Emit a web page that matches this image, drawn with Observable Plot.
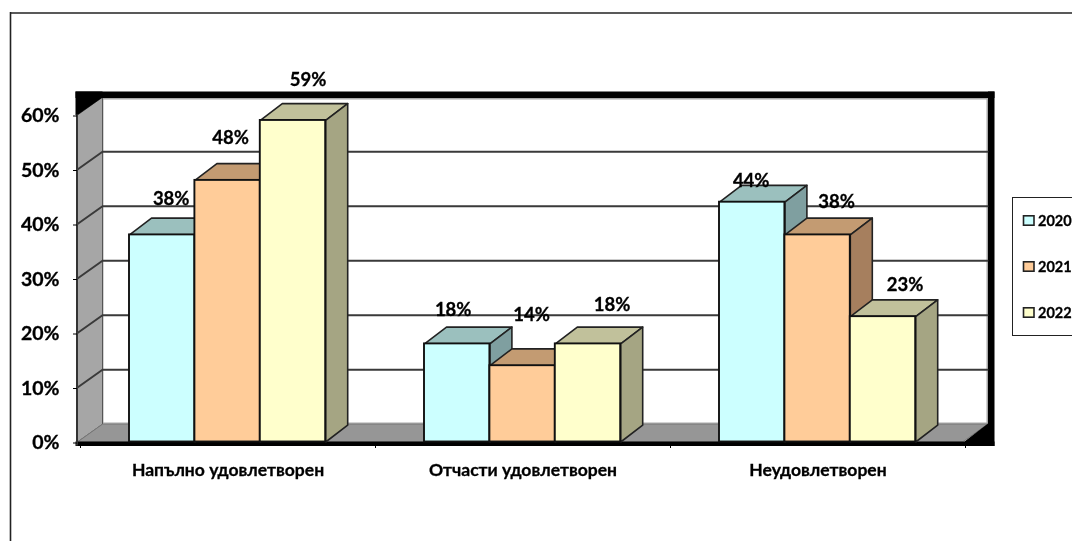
<!DOCTYPE html>
<html>
<head>
<meta charset="utf-8">
<script src="https://cdn.jsdelivr.net/npm/d3@7"></script>
<script src="https://cdn.jsdelivr.net/npm/@observablehq/plot@0.6"></script>
<style>
html,body{margin:0;padding:0;background:#fff;overflow:hidden}
svg{display:block;filter:blur(0.35px)}
svg text{stroke:#000;stroke-width:0.3px}
</style>
</head>
<body>
<div id="chart"></div>
<script>
// ---- data ----
const categories = ["Напълно удовлетворен", "Отчасти удовлетворен", "Неудовлетворен"];
const years = ["2020", "2021", "2022"];
const values2020 = [38, 18, 44];
const values2021 = [48, 14, 38];
const values2022 = [59, 18, 23];
const yTicks = [0, 10, 20, 30, 40, 50, 60];

// ---- styling per series ----
const frontColors = ["#CCFFFF", "#FFCC99", "#FFFFCC"];
const topColors   = ["#9BC0BE", "#C39B72", "#C1C19B"];
const sideColors  = ["#7F9FA0", "#A67F5E", "#A5A583"];

// ---- manual data label offsets (px, from bar centre / bar top) ----
const labelDx = [[9, -4, -1], [3, 9, 19], [15, 24, 22]];
const labelDy = [[-36, -34, -21], [-42, -51, -33], [-40, -39, -32]];

// ---- layout ----
const W = 1072, H = 541;
const X0 = 80, X3 = 965, Y0 = 441.5, Y60 = 114.5;
const groupPx = (X3 - X0) / 3, pctPx = (Y0 - Y60) / 60;
const ux = px => (px - X0) / groupPx;      // pixels to x units
const uy = py => (Y0 - py) / pctPx;        // pixels to y units
const barW = 65.4 / groupPx, groupGap = 49 / groupPx;
const depthX = 22 / groupPx, depthY = 16.8 / pctPx;
const wallX = 25 / groupPx, wallY = 17.8 / pctPx;
const xL = ux(77);

const series = [values2020, values2021, values2022];

// polygon helper: a filled closed line in chart units
const poly = (pts, fill, stroke = "none", strokeWidth = 1) =>
  Plot.line(pts, {x: "0", y: "1", curve: "linear-closed", fill, stroke, strokeWidth, strokeLinejoin: "round", clip: false});

const marks = [];

// back wall, left wall, floor
marks.push(poly([[xL + wallX, uy(98)], [ux(987), uy(98)], [ux(987), uy(423)], [xL + wallX, uy(423)]], "#fff", "#a8a8a8", 2));
marks.push(poly([[xL, 60], [xL + wallX, 60 + wallY], [xL + wallX, wallY], [xL, 0]], "#A6A6A6", "#555", 1));
marks.push(poly([[xL, 0], [xL + wallX, wallY], [ux(987), wallY], [ux(987) - wallX, 0]], "#969696", "#777", 1));

// black chart area edge
marks.push(poly([[ux(75), uy(91)], [ux(994), uy(91)], [ux(994), uy(97.5)], [ux(75), uy(97.5)]], "#000"));
marks.push(poly([[ux(75), uy(91)], [ux(102), uy(91)], [ux(102), uy(97)], [ux(77), uy(114.5)], [ux(75), uy(114.5)]], "#000"));
marks.push(poly([[ux(987.5), uy(91)], [ux(994), uy(91)], [ux(994), uy(445.5)], [ux(987.5), uy(445.5)]], "#000"));
marks.push(poly([[ux(75), uy(441)], [ux(994), uy(441)], [ux(994), uy(445.5)], [ux(75), uy(445.5)]], "#000"));
marks.push(poly([[ux(987.5), uy(423)], [ux(987.5), uy(445)], [ux(964), uy(445)], [ux(964), uy(441)]], "#000"));
marks.push(poly([[ux(75.5), uy(114)], [ux(77.5), uy(114)], [ux(77.5), uy(445)], [ux(75.5), uy(445)]], "#333"));

// gridlines: along the back wall and down the left wall
const grid = yTicks.filter(t => t > 0 && t < 60);
marks.push(Plot.line(grid.flatMap(t => [
  {t, x: xL, y: t}, {t, x: xL + wallX, y: t + wallY}, {t, x: ux(987), y: t + wallY}
]), {x: "x", y: "y", z: "t", stroke: "#3a3a3a", strokeWidth: 2}));

// bars, drawn series by series so that later bars overlap earlier ones
const barTable = [];
series.forEach((vals, s) => vals.forEach((v, c) => {
  const a = c + groupGap + s * barW, b = a + barW;
  barTable.push({s, c, v, a, b, cx: (a + b) / 2});
}));
series.forEach((vals, s) => {
  barTable.filter(d => d.s === s).forEach(({a, b, v}) => {
    marks.push(poly([[a, v], [a + depthX, v + depthY], [b + depthX, v + depthY], [b, v]], topColors[s], "#222", 1.6));
    marks.push(poly([[b, 0], [b + depthX, depthY], [b + depthX, v + depthY], [b, v]], sideColors[s], "#222", 1.6));
  });
  marks.push(Plot.rect(barTable.filter(d => d.s === s), {
    x1: "a", x2: "b", y1: 0, y2: "v", fill: frontColors[s], stroke: "#111", strokeWidth: 1.9
  }));
});

// data labels
marks.push(Plot.text(barTable, {
  x: "cx", y: "v",
  text: d => d.v + "%",
  fontWeight: 700, fontSize: 18.5, fill: "#000",
  render(index, scales, values, dims, context, next) {
    const g = next(index, scales, values, dims, context);
    d3.select(g).selectAll("text").attr("transform", function (_, i) {
      const d = barTable[index[i]];
      const px = scales.x(d.cx) + labelDx[d.s][d.c];
      const py = scales.y(d.v) + labelDy[d.s][d.c];
      return `translate(${px},${py})`;
    });
    return g;
  }
}));

// axes
marks.push(Plot.axisY({
  anchor: "left", ticks: yTicks, tickFormat: d => d + "%", tickSize: 4, tickPadding: 14,
  fontSize: 19.5, fontWeight: 700, fill: "#000", stroke: "#000", label: null,
  dy: 1
}));
marks.push(Plot.axisX({
  anchor: "bottom", ticks: [0, 1, 2, 3], tickFormat: () => "", tickSize: 3, stroke: "#000", label: null
}));
marks.push(Plot.axisX({
  anchor: "bottom", ticks: [0.5, 1.5, 2.5], tickFormat: d => categories[Math.floor(d)],
  tickSize: 0, tickPadding: 18, fontSize: 17.5, fontWeight: 700, fill: "#000", label: null,
  style: {letterSpacing: "0.55px"}
}));

// outer frame (top and left edges only, as the picture is cropped)
marks.push(Plot.ruleY([uy(12.5)], {x1: ux(10), x2: ux(W), stroke: "#222", strokeWidth: 1.6}));
marks.push(Plot.ruleX([ux(10)], {y1: uy(12), y2: uy(H), stroke: "#222", strokeWidth: 1.6}));

// legend
marks.push(Plot.rect([0], {x1: ux(1012.5), x2: ux(W + 10), y1: uy(197.5), y2: uy(335.5), fill: "#fff", stroke: "#222", strokeWidth: 1}));
const legendTable = years.map((year, i) => ({year, i, cy: [220.5, 266.5, 312.5][i]}));
legendTable.forEach(d => {
  marks.push(Plot.rect([d], {
    x1: ux(1023.5), x2: ux(1034), y1: uy(d.cy - 4.7), y2: uy(d.cy + 4.7),
    fill: frontColors[d.i], stroke: "#222", strokeWidth: 1.6
  }));
});
marks.push(Plot.text(legendTable, {
  x: ux(1037.5), y: d => uy(d.cy), text: "year", textAnchor: "start",
  fontSize: 14.5, fontWeight: 700, fill: "#000"
}));

const chart = Plot.plot({
  width: W, height: H,
  marginLeft: 77, marginRight: 0, marginTop: 0, marginBottom: H - 445,
  style: {fontFamily: "Lato, 'Noto Sans', sans-serif", background: "#fff", overflow: "hidden"},
  x: {type: "linear", domain: [0, 3], range: [X0, X3], axis: null},
  y: {type: "linear", domain: [0, 60], range: [Y0, Y60], axis: null},
  marks
});
document.getElementById("chart").appendChild(chart);
</script>
</body>
</html>
